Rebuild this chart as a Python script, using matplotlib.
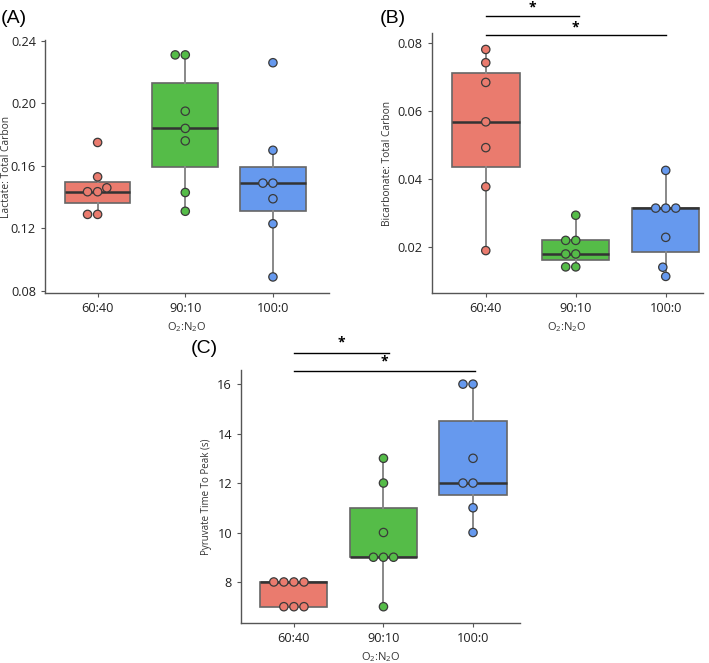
import numpy as np
import pandas as pd
import matplotlib
matplotlib.use("Agg")
import matplotlib.pyplot as plt
import seaborn as sns

plt.rcParams["font.family"] = ["Open Sans", "DejaVu Sans"]
plt.rcParams["mathtext.default"] = "regular"

GROUPS = ["60:40", "90:10", "100:0"]
COLORS = ["#EA7B6E", "#55BC48", "#6699EE"]

# panel A: lactate / total carbon
lactate = {
    "60:40": [0.175, 0.153, 0.146, 0.1435, 0.1435, 0.129, 0.129],
    "90:10": [0.231, 0.231, 0.195, 0.184, 0.176, 0.143, 0.131],
    "100:0": [0.226, 0.170, 0.149, 0.149, 0.139, 0.123, 0.089],
}
# panel B: bicarbonate / total carbon
bicarb = {
    "60:40": [0.0782, 0.0743, 0.0685, 0.0569, 0.0493, 0.0378, 0.0190],
    "90:10": [0.0294, 0.0220, 0.0220, 0.0180, 0.0180, 0.0142, 0.0142],
    "100:0": [0.0426, 0.0315, 0.0315, 0.0315, 0.0229, 0.0141, 0.0114],
}
# panel C: pyruvate time to peak (s)
ttp = {
    "60:40": [8, 8, 8, 8, 7, 7, 7],
    "90:10": [13, 12, 10, 9, 9, 9, 7],
    "100:0": [16, 16, 13, 12, 12, 11, 10],
}

A_TICKS = [0.08, 0.12, 0.16, 0.20, 0.24]
B_TICKS = [0.02, 0.04, 0.06, 0.08]
C_TICKS = [8, 10, 12, 14, 16]


def draw_panel(ax, data, ylabel, ylim, yticks, fmt, xlim, ylab_x, ylab_size):
    vals = [data[g] for g in GROUPS]
    bp = ax.boxplot(vals, positions=range(3), widths=0.75, patch_artist=True,
                    showfliers=False, showcaps=False,
                    boxprops=dict(edgecolor="#666666", linewidth=1.2),
                    whiskerprops=dict(color="#888888", linewidth=1.4),
                    medianprops=dict(color="#333333", linewidth=1.8), zorder=1)
    for patch, c in zip(bp["boxes"], COLORS):
        patch.set_facecolor(c)
    df = pd.DataFrame([(g, v) for g in GROUPS for v in data[g]], columns=["g", "v"])
    sns.swarmplot(data=df, x="g", y="v", hue="g", order=GROUPS, hue_order=GROUPS,
                  palette=COLORS, size=6, edgecolor="#3a3a3a", linewidth=0.9,
                  legend=False, ax=ax, zorder=3)
    ax.set_xlim(*xlim)
    ax.set_ylim(*ylim)
    ax.set_xticks(range(3))
    ax.set_xticklabels(GROUPS)
    ax.set_yticks(yticks)
    ax.set_yticklabels([fmt.format(t) for t in yticks])
    ax.set_xlabel("O$_2$:N$_2$O", fontsize=8, color="#333333", labelpad=4)
    ax.set_ylabel(ylabel, fontsize=ylab_size, color="#333333", va="center")
    ax.yaxis.set_label_coords(ylab_x, 0.5)
    for s in ["top", "right"]:
        ax.spines[s].set_visible(False)
    for s in ["left", "bottom"]:
        ax.spines[s].set_color("#555555")
        ax.spines[s].set_linewidth(1.0)
    ax.tick_params(axis="both", labelsize=9.2, colors="#555555", labelcolor="#222222",
                   length=3, width=0.8)


def sig_bar(ax, x0, x1, y, ystar):
    tr = ax.get_xaxis_transform()
    ax.plot([x0, x1], [y, y], color="black", lw=1.0, clip_on=False, transform=tr)
    ax.text((x0 + x1) / 2, ystar, "*", ha="center", va="center", fontsize=10,
            fontweight="bold", clip_on=False, transform=tr)


fig = plt.figure(figsize=(7.09, 6.63), dpi=100)

axA = fig.add_axes([0.0635, 0.558, 0.4006, 0.3816])
draw_panel(axA, lactate, "Lactate: Total Carbon", (0.0787, 0.2405), A_TICKS, "{:.2f}",
           (-0.6, 2.64), -0.135, 7.4)

axB = fig.add_axes([0.609, 0.558, 0.382, 0.392])
draw_panel(axB, bicarb, "Bicarbonate: Total Carbon", (0.0065, 0.083), B_TICKS, "{:.2f}",
           (-0.6, 2.41), -0.164, 7.4)
sig_bar(axB, 0, 1.04, 1.065, 1.10)
sig_bar(axB, 0, 2.0, 0.992, 1.022)

axC = fig.add_axes([0.340, 0.0603, 0.3935, 0.3816])
draw_panel(axC, ttp, "Pyruvate Time To Peak (s)", (6.34, 16.57), C_TICKS, "{:d}",
           (-0.59, 2.525), -0.124, 7.0)
sig_bar(axC, 0, 1.06, 1.067, 1.107)
sig_bar(axC, 0, 2.02, 0.996, 1.034)

for lab, x, y in [("(A)", 0.001, 0.985), ("(B)", 0.536, 0.985), ("(C)", 0.269, 0.487)]:
    fig.text(x, y, lab, fontsize=14, family=["Liberation Sans"], ha="left", va="top")

fig.savefig("out.png", dpi=100)
